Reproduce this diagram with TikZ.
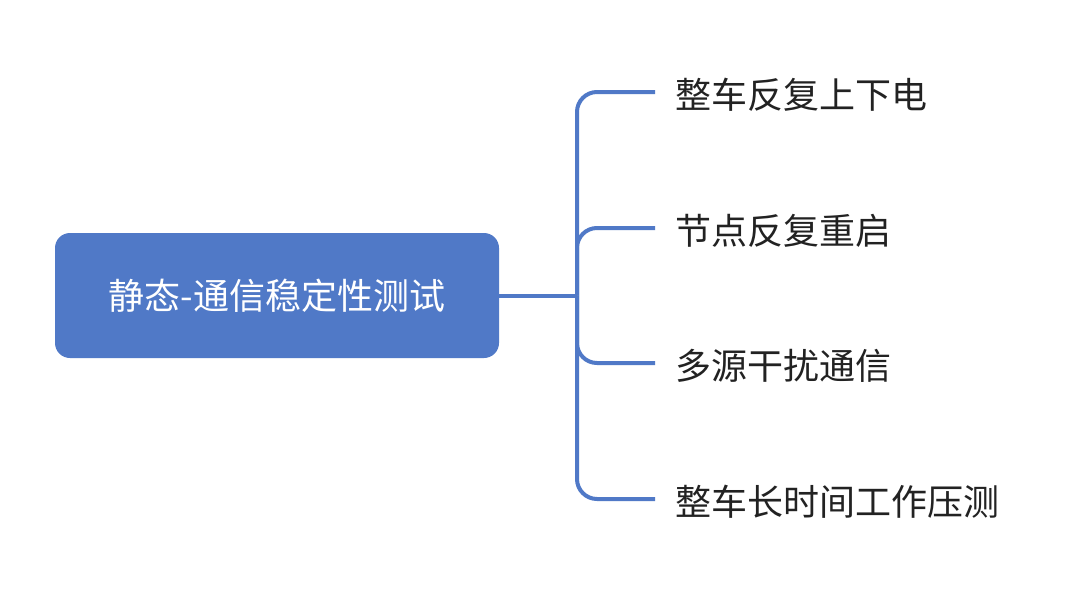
\documentclass[tikz,border=0pt]{standalone}
\usepackage{fontspec}
\newfontfamily\cjk{Noto Sans CJK SC}
\definecolor{rootblue}{HTML}{5079C7}
\definecolor{linkblue}{HTML}{5079C7}
\definecolor{txt}{HTML}{222222}
\begin{document}
\begin{tikzpicture}[x=1pt,y=-1pt,
  rootbox/.style={fill=rootblue,rounded corners=15pt,minimum width=444pt,minimum height=125pt,inner sep=0pt,text=white,font=\cjk\fontsize{36}{40}\selectfont},
  leaf/.style={anchor=west,inner sep=0pt,text=txt,font=\cjk\fontsize{36}{40}\selectfont},
  link/.style={draw=linkblue,line width=4pt,rounded corners=20pt}]
\useasboundingbox (0,0) rectangle (1080,592);
\fill[white] (0,0) rectangle (1080,592);
\node[rootbox] (root) at (277,295.5) {静态-通信稳定性测试};
\coordinate (trunk) at (577,295.5);
\node[leaf] (c1) at (675,95) {整车反复上下电};
\node[leaf] (c2) at (675,231) {节点反复重启};
\node[leaf] (c3) at (675,366) {多源干扰通信};
\node[leaf] (c4) at (675,502) {整车长时间工作压测};
\draw[link,rounded corners=0pt] (root.east) -- (trunk);
\draw[link] (trunk) |- ([xshift=-20pt,yshift=3pt]c1.west);
\draw[link] (trunk) |- ([xshift=-20pt,yshift=3pt]c2.west);
\draw[link] (trunk) |- ([xshift=-20pt,yshift=3pt]c3.west);
\draw[link] (trunk) |- ([xshift=-20pt,yshift=3pt]c4.west);
\end{tikzpicture}
\end{document}
